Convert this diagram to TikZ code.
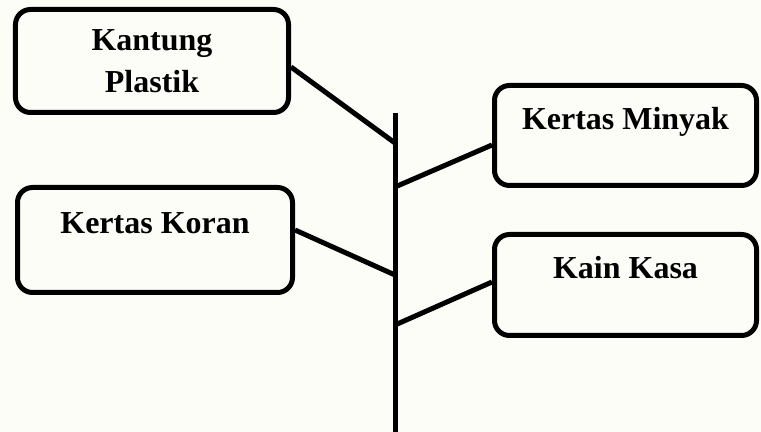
\documentclass[tikz,border=0pt]{standalone}
\usepackage{fontspec}
\setmainfont{Liberation Serif}
\usetikzlibrary{positioning,calc}
\definecolor{paper}{RGB}{253,253,248}
\tikzset{
  catblk/.style={draw,rectangle,rounded corners=0.3cm,line width=0.1cm,fill=paper,align=center,inner sep=0pt,font=\fontsize{18.2}{24}\selectfont\bfseries},
  topblk/.style={catblk,text height=0.5cm,text depth=0.74cm},
  bone/.style={line width=0.1cm}
}

\begin{document}
\begin{tikzpicture}
  \useasboundingbox (0,0) rectangle (15.22,8.64);
  \fill[paper] (0,0) rectangle (15.22,8.64);

  % Left categories
  \node[catblk, minimum width=5.46cm, minimum height=2.06cm] (kantung) at (3.04, 7.42) {Kantung\\Plastik};
  \node[topblk, minimum width=5.50cm, minimum height=2.10cm] (koran) at (3.10, 3.84) {Kertas Koran};

  % Right categories
  \node[topblk, minimum width=5.24cm, minimum height=2.00cm] (minyak) at (12.51, 5.93) {Kertas Minyak};
  \node[topblk, minimum width=5.24cm, minimum height=2.02cm] (kasa) at (12.51, 2.94) {Kain Kasa};

  % Spine and joints
  \coordinate (spinetop) at (7.9, 6.38);
  \coordinate (spinebot) at (7.9, 0);
  \coordinate (j1) at (7.9, 5.78);
  \coordinate (j2) at (7.9, 4.90);
  \coordinate (j3) at (7.9, 3.14);
  \coordinate (j4) at (7.9, 2.14);
  \draw[bone] (spinetop) -- (spinebot);

  % Branches
  \draw[bone] ([yshift=-0.12cm]kantung.east) -- (j1);
  \draw[bone] (j2) -- ([yshift=-0.19cm]minyak.west);
  \draw[bone] ([yshift=0.2cm]koran.east) -- (j3);
  \draw[bone] (j4) -- ([yshift=0.06cm]kasa.west);
\end{tikzpicture}
\end{document}
